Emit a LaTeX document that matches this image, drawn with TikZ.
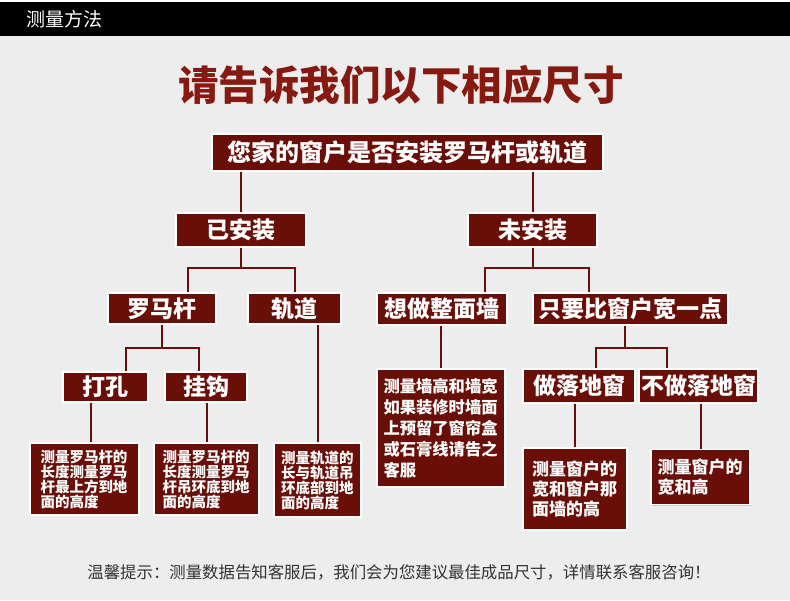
\documentclass[tikz,border=0pt]{standalone}
\usepackage{fontspec}
\setmainfont{Noto Sans CJK SC}
\usetikzlibrary{positioning,shadows,calc,backgrounds}
\definecolor{cBg}  {HTML}{EDEDED}
\definecolor{cBox} {HTML}{6A0F07}
\definecolor{cHead}{HTML}{861A10}
\definecolor{cNote}{HTML}{333333}
\tikzset{
  hd/.style   ={draw=white,line width=1.4pt,fill=cBox,text=white,inner sep=0pt,
                font=\fontsize{23}{26}\selectfont\bfseries,
                drop shadow={opacity=0.3,shadow xshift=1.3pt,shadow yshift=-1.3pt}},
  desc/.style ={hd,align=left,inner ysep=0pt,font=\fontsize{14.5}{15}\selectfont\bfseries},
  link/.style ={draw=cBox,line width=2pt},
}

\begin{document}
\begin{tikzpicture}[x=1pt,y=-1pt,every node/.style={outer sep=0pt}]
\useasboundingbox (0,0) rectangle (790,600);
\begin{scope}[on background layer]
\fill[cBg] (0,0) rectangle (790,600);
\fill[white] (0,0) rectangle (790,2);
\end{scope}

% ---------------- header -------------------------------------------------
\fill[black] (0,2) rectangle (790,36);
\node[anchor=west,text=white,font=\fontsize{19}{22}\selectfont] (hdr) at (23,19) {测量方法};
\node[text=cHead,font=\fontsize{40.5}{44}\selectfont\bfseries] (ttl) at (401,85)
  {请告诉我们以下相应尺寸};

% ---------------- heading boxes ------------------------------------------
\node[hd,minimum width=391pt,minimum height=37pt,font=\fontsize{24}{26}\selectfont\bfseries]
  (topq) at (407.5,152.5) {您家的窗户是否安装罗马杆或轨道};
\foreach \n/\x/\y/\w/\h/\t in {%
  yes/241/230/130/34/{已安装},
  no/532.5/230/129/34/{未安装},
  roma/162/308.5/108/31/{罗马杆},
  track/294.5/308.5/93/31/{轨道},
  wall/442/309/130/32/{想做整面墙},
  wide/630.5/309/195/32/{只要比窗户宽一点},
  drill/105.5/387/85/30/{打孔},
  hook/206/387/82/30/{挂钩},
  floor/579/386/112/34/{做落地窗},
  nofloor/698.5/386/119/34/{不做落地窗}}
  {\node[hd,minimum width=\w pt,minimum height=\h pt] (\n) at (\x,\y) {\t};}

% ---------------- description boxes --------------------------------------
\node[desc,text width=88pt,inner xsep=10.5pt,minimum height=72pt] (dDrill) at (84.5,479)
  {测量罗马杆的\\长度测量罗马\\杆最上方到地\\面的高度};
\node[desc,text width=88pt,inner xsep=8.5pt,minimum height=72pt] (dHook) at (206.5,479)
  {测量罗马杆的\\长度测量罗马\\杆吊环底到地\\面的高度};
\node[desc,text width=73pt,inner xsep=7pt,minimum height=74pt] (dTrack) at (317.5,480)
  {测量轨道的\\长与轨道吊\\环底部到地\\面的高度};
\node[desc,text width=115pt,inner xsep=6.5pt,minimum height=118pt,
      font=\fontsize{16.3}{21}\selectfont\bfseries] (dWall) at (441,428)
  {测量墙高和墙宽\\如果装修时墙面\\上预留了窗帘盒\\或石膏线请告之\\客服};
\node[desc,text width=86pt,inner xsep=9pt,minimum height=82pt,
      font=\fontsize{17}{20}\selectfont\bfseries] (dFloor) at (575,489)
  {测量窗户的\\宽和窗户那\\面墙的高};
\node[desc,text width=86pt,inner xsep=6.5pt,minimum height=55pt,
      font=\fontsize{17}{20}\selectfont\bfseries] (dNofloor) at (700.5,477)
  {测量窗户的\\宽和高};

% ---------------- connectors ---------------------------------------------
\begin{scope}[on background layer]
\draw[link] (topq.south -| yes.north) -- (yes.north);
\draw[link] (topq.south -| no.north) -- (no.north);
\draw[link] (yes.south) -- ++(0,21) coordinate (busYes);
\draw[link] ([xshift=26pt]roma.north) |- (busYes) -| (track.north);
\draw[link] (no.south) -- ++(0,21) coordinate (busNo);
\draw[link] ([xshift=43pt]wall.north) |- (busNo) -| ([xshift=-42pt]wide.north);
\draw[link] (roma.south) -- ++(0,24) coordinate (busRoma);
\draw[link] ([xshift=20pt]drill.north) |- (busRoma) -| ([xshift=-7pt]hook.north);
\draw[link] ([xshift=-6pt]wide.south) -- ++(0,23) coordinate (busWide);
\draw[link] ([xshift=17pt]floor.north) |- (busWide) -| ([xshift=-32pt]nofloor.north);
\draw[link] ([xshift=6.5pt]dDrill.north |- drill.south) -- ([xshift=6.5pt]dDrill.north);
\draw[link] (dHook.north |- hook.south) -- (dHook.north);
\draw[link] (dTrack.north |- track.south) -- (dTrack.north);
\draw[link] (dWall.north |- wall.south) -- (dWall.north);
\draw[link] (dFloor.north |- floor.south) -- (dFloor.north);
\draw[link] (dNofloor.north |- nofloor.south) -- (dNofloor.north);
\end{scope}

% ---------------- footer note --------------------------------------------
\node[text=cNote,font=\fontsize{16.4}{18}\selectfont] (note) at (399,572)
  {温馨提示：测量数据告知客服后，我们会为您建议最佳成品尺寸，详情联系客服咨询！};
\end{tikzpicture}
\end{document}
